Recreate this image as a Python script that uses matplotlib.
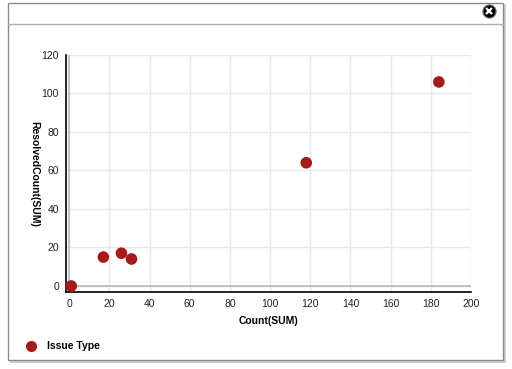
import matplotlib.pyplot as plt
from matplotlib.patches import Rectangle
from matplotlib.lines import Line2D

plt.rcParams['font.family'] = ['Liberation Sans', 'DejaVu Sans']

# Data
count_sum = [1, 17, 26, 31, 118, 184]
resolved_sum = [0, 15, 17, 14, 64, 106]
x_ticks = [0, 20, 40, 60, 80, 100, 120, 140, 160, 180, 200]
y_ticks = [0, 20, 40, 60, 80, 100, 120]
series_name = 'Issue Type'

W, H = 512, 369
fig = plt.figure(figsize=(W / 100, H / 100), dpi=100)
fig.patch.set_facecolor('white')

def fx(px):
    return px / W

def fy(py):
    return 1 - py / H

# dialog panel: shadow, border, header line
fig.patches.append(Rectangle((fx(10), fy(363)), fx(496), (361 - 2) / H, transform=fig.transFigure,
                             facecolor='#cfcfcf', edgecolor='none', zorder=0))
fig.patches.append(Rectangle((fx(8), fy(360)), fx(495), (358 - 1) / H, transform=fig.transFigure,
                             facecolor='white', edgecolor='#8a8a8a', linewidth=1, zorder=1))
fig.lines.append(Line2D([fx(8), fx(503)], [fy(24), fy(24)], transform=fig.transFigure,
                        color='#b0b0b0', linewidth=1, zorder=2))
# close button
fig.lines.append(Line2D([fx(489)], [fy(11)], transform=fig.transFigure, marker='o', markersize=9.5,
                        markerfacecolor='black', markeredgecolor='#777777', markeredgewidth=0.8,
                        linestyle='none', zorder=3))
fig.lines.append(Line2D([fx(489)], [fy(11)], transform=fig.transFigure, marker='x', markersize=4,
                        markeredgecolor='white', markeredgewidth=1.6, linestyle='none', zorder=4))

ax = fig.add_axes([fx(66), fy(292.3), fx(471) - fx(66), fy(55) - fy(292.3)])
ax.set_zorder(5)
ax.set_facecolor('white')

ax.scatter(count_sum, resolved_sum, s=70, color='#a51b1c', edgecolors='none', zorder=4, clip_on=False)

ax.set_xlim(-1.6, 200)
ax.set_ylim(-3.3, 120)
ax.set_xticks(x_ticks)
ax.set_yticks(y_ticks)
ax.grid(True, color='#e8e8e8', linewidth=1)
ax.set_axisbelow(True)
ax.axvline(0, color='#a9bccf', linewidth=1.2, zorder=2)
ax.axhline(0, color='#a9bccf', linewidth=1.2, zorder=2)

for side in ['top', 'right']:
    ax.spines[side].set_visible(False)
for side in ['left', 'bottom']:
    ax.spines[side].set_color('black')
    ax.spines[side].set_linewidth(1.2)

ax.tick_params(length=0, labelsize=7.5, labelcolor='#222222', pad=5)
ax.set_xlabel('Count(SUM)', fontsize=7.5, fontweight='bold', labelpad=5)
ax.set_ylabel('ResolvedCount(SUM)', fontsize=7.5, fontweight='bold', rotation=270, labelpad=9)

# legend
fig.lines.append(Line2D([fx(31)], [fy(346)], transform=fig.transFigure, marker='o', markersize=8,
                        markerfacecolor='#a51b1c', markeredgecolor='none', linestyle='none', zorder=6))
fig.text(fx(47), fy(346), series_name, fontsize=7.5, fontweight='bold', va='center', ha='left')

fig.savefig('out.png', dpi=100)
